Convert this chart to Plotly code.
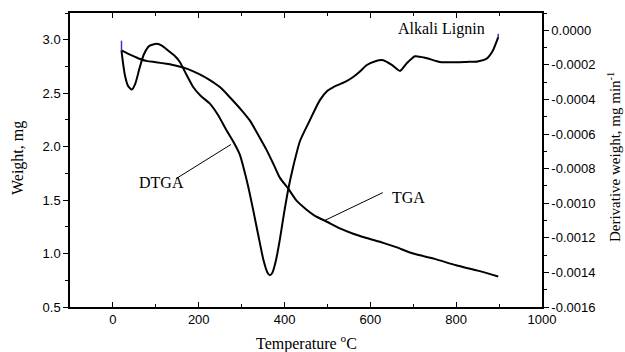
import plotly.graph_objects as go

# ---- data ----
temp_tga = [20, 40, 60, 80, 100, 125, 150, 175, 200, 225, 250, 273, 300, 319, 340,
            358, 375, 389, 409, 428, 450, 470, 500, 529, 560, 591, 630, 660, 700,
            750, 800, 850, 898]
weight_tga = [2.90, 2.86, 2.825, 2.80, 2.79, 2.775, 2.755, 2.725, 2.68, 2.625, 2.555,
              2.46, 2.34, 2.245, 2.10, 1.97, 1.83, 1.71, 1.605, 1.495, 1.415, 1.355,
              1.295, 1.235, 1.185, 1.145, 1.10, 1.06, 1.00, 0.95, 0.89, 0.84, 0.785]

temp_dtga = [20, 22, 28, 35, 44, 52, 62, 72, 85, 102, 115, 130, 145, 156, 170, 187,
             205, 226, 245, 265, 282, 296, 304, 315, 327, 340, 351, 360, 366, 372,
             380, 389, 398, 409, 420, 436, 459, 482, 500, 514, 540, 560, 575, 591,
             610, 630, 650, 669, 685, 704, 730, 762, 800, 824, 850, 871, 885, 898]
deriv_dtga = [-0.000116, -0.00016, -0.00026, -0.00032, -0.000343, -0.00031, -0.00022,
              -0.00014, -0.00009, -0.000078, -0.00009, -0.00012, -0.00015, -0.000183,
              -0.00025, -0.000328, -0.00038, -0.000424, -0.00049, -0.00058, -0.00065,
              -0.00072, -0.00079, -0.00090, -0.00104, -0.00120, -0.00133, -0.00140,
              -0.001416, -0.00140, -0.00133, -0.00121, -0.00107, -0.000915, -0.00079,
              -0.00064, -0.00052, -0.000405, -0.00035, -0.000328, -0.00030, -0.00027,
              -0.00024, -0.000202, -0.00018, -0.000173, -0.00020, -0.000235, -0.00019,
              -0.00015, -0.00016, -0.000183, -0.000185, -0.000183, -0.00018, -0.000164,
              -0.00012, -0.00004]

# small blue end caps visible in the reference
cap_start_T = [20, 20]
cap_start_d = [-0.00006, -0.000116]
cap_end_T = [898, 898]
cap_end_d = [-0.00004, -0.00002]

x_ticks = [0, 200, 400, 600, 800, 1000]
x_tick_labels = ["0", "200", "400", "600", "800", "1000"]
y_left_ticks = [0.5, 1.0, 1.5, 2.0, 2.5, 3.0]
y_left_labels = ["0.5", "1.0", "1.5", "2.0", "2.5", "3.0"]
y_right_ticks = [0.0, -0.0002, -0.0004, -0.0006, -0.0008, -0.0010, -0.0012, -0.0014, -0.0016]
y_right_labels = ["0.0000", "-0.0002", "-0.0004", "-0.0006", "-0.0008",
                  "-0.0010", "-0.0012", "-0.0014", "-0.0016"]

TICK_FONT = dict(family="Liberation Sans, Arial, sans-serif", size=13, color="black")
SERIF = "Liberation Serif, Times New Roman, serif"
LABEL_FONT = dict(family=SERIF, size=16, color="black")

fig = go.Figure()
fig.add_trace(go.Scatter(x=temp_tga, y=weight_tga, mode="lines", yaxis="y",
                         line=dict(color="black", width=2, shape="spline", smoothing=0.7),
                         hoverinfo="skip"))
fig.add_trace(go.Scatter(x=temp_dtga, y=deriv_dtga, mode="lines", yaxis="y2",
                         line=dict(color="black", width=2, shape="spline", smoothing=0.6),
                         hoverinfo="skip"))
for cx, cy in ((cap_start_T, cap_start_d), (cap_end_T, cap_end_d)):
    fig.add_trace(go.Scatter(x=cx, y=cy, mode="lines", yaxis="y2",
                             line=dict(color="#3838d0", width=1.5), hoverinfo="skip"))

fig.update_layout(
    width=625, height=352,
    margin=dict(l=70, r=83, t=13, b=45),
    showlegend=False,
    plot_bgcolor="white", paper_bgcolor="white",
    xaxis=dict(range=[-100, 1000], tickmode="array", tickvals=x_ticks, ticktext=x_tick_labels,
               ticks="inside", ticklen=5, tickwidth=1, tickcolor="black",
               showline=True, linecolor="black", linewidth=1.5, mirror="ticks",
               showgrid=False, zeroline=False, tickfont=TICK_FONT,
               minor=dict(tickmode="linear", tick0=0, dtick=100, ticks="inside",
                          ticklen=3, tickcolor="black", showgrid=False)),
    yaxis=dict(range=[0.5, 3.25], tickmode="array", tickvals=y_left_ticks, ticktext=y_left_labels,
               ticks="outside", ticklen=5, tickwidth=1, tickcolor="black",
               showline=True, linecolor="black", linewidth=1.5,
               showgrid=False, zeroline=False, tickfont=TICK_FONT,
               minor=dict(tickmode="linear", tick0=0.5, dtick=0.25, ticks="outside",
                          ticklen=3, tickcolor="black", showgrid=False)),
    yaxis2=dict(range=[-0.0016, 0.0001], overlaying="y", side="right", anchor="x",
                tickmode="array", tickvals=y_right_ticks, ticktext=y_right_labels,
                ticks="outside", ticklen=5, tickwidth=1, tickcolor="black",
                showline=True, linecolor="black", linewidth=1.5,
                showgrid=False, zeroline=False, tickfont=TICK_FONT,
                minor=dict(tickmode="linear", tick0=0, dtick=0.0001, ticks="outside",
                           ticklen=3, tickcolor="black", showgrid=False)),
)

# leader lines
fig.add_shape(type="line", xref="x", yref="y", x0=147, y0=1.70, x1=275, y1=2.02,
              line=dict(color="black", width=1))
fig.add_shape(type="line", xref="x", yref="y", x0=629, y0=1.57, x1=494, y1=1.31,
              line=dict(color="black", width=1))

# labels
fig.add_annotation(x=114, y=1.66, xref="x", yref="y", text="DTGA", showarrow=False,
                   xanchor="center", yanchor="middle", font=LABEL_FONT)
fig.add_annotation(x=688, y=1.52, xref="x", yref="y", text="TGA", showarrow=False,
                   xanchor="center", yanchor="middle", font=LABEL_FONT)
fig.add_annotation(x=765, y=3.10, xref="x", yref="y", text="Alkali Lignin", showarrow=False,
                   xanchor="center", yanchor="middle", font=LABEL_FONT)

# axis titles
fig.add_annotation(x=0.502, y=-0.122, xref="paper", yref="paper",
                   text="Temperature <sup>o</sup>C", showarrow=False,
                   xanchor="center", yanchor="middle", font=LABEL_FONT)
fig.add_annotation(x=-0.110, y=0.507, xref="paper", yref="paper", textangle=-90,
                   text="Weight, mg", showarrow=False,
                   xanchor="center", yanchor="middle", font=LABEL_FONT)
fig.add_annotation(x=1.1525, y=0.510, xref="paper", yref="paper", textangle=-90,
                   text="Derivative weight, mg min<sup>-1</sup>", showarrow=False,
                   xanchor="center", yanchor="middle",
                   font=dict(family=SERIF, size=15, color="black"))

fig.write_html("out.html")
